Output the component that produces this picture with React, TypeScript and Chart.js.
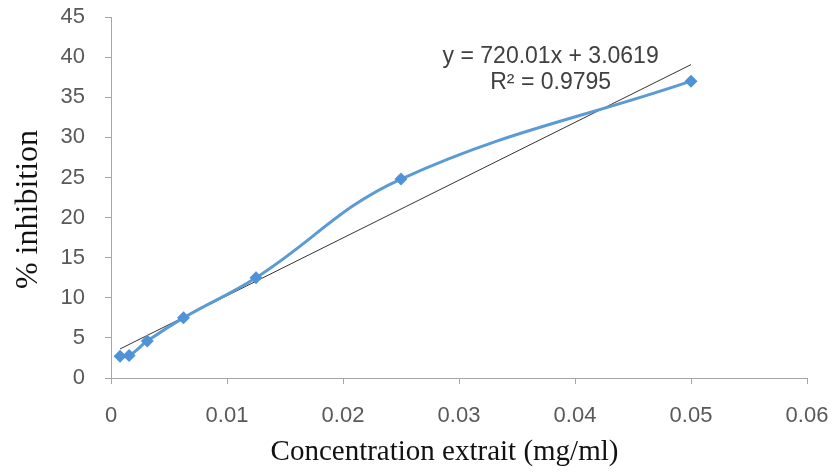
import React, { useEffect, useRef } from "react";
import { Chart, registerables } from "chart.js";

Chart.register(...registerables);

const concentrations = [0.00078125, 0.0015625, 0.003125, 0.00625, 0.0125, 0.025, 0.05];
const inhibition = [2.7, 2.8, 4.6, 7.5, 12.5, 24.8, 37.0];
const slope = 720.01;
const intercept = 3.0619;
const equationLines = ["y = 720.01x + 3.0619", "R² = 0.9795"];
const xTicks = [0, 0.01, 0.02, 0.03, 0.04, 0.05, 0.06];

export default function App() {
  const ref = useRef<HTMLCanvasElement | null>(null);
  useEffect(() => {
    document.body.style.margin = "0";
    const trend = [concentrations[0], concentrations[concentrations.length - 1]].map((x) => ({ x, y: slope * x + intercept }));
    const eqPlugin = {
      id: "eq",
      afterDatasetsDraw(chart: any) {
        const { ctx, scales } = chart;
        ctx.save();
        ctx.fillStyle = "#404040";
        ctx.font = "23px 'Liberation Sans', Arial, sans-serif";
        ctx.textAlign = "center";
        ctx.textBaseline = "middle";
        const cx = scales.x.getPixelForValue(0.0379);
        ctx.fillText(equationLines[0], cx, scales.y.getPixelForValue(40.1));
        ctx.fillText(equationLines[1], cx, scales.y.getPixelForValue(36.8));
        ctx.restore();
      },
    };
    const chart = new Chart(ref.current!, {
      type: "scatter",
      data: {
        datasets: [
          {
            data: concentrations.map((x, i) => ({ x, y: inhibition[i] })),
            showLine: true,
            borderColor: "#5B9BD5",
            backgroundColor: "#4F93D6",
            borderWidth: 3,
            tension: 0.4,
            pointStyle: "rectRot",
            pointRadius: 6.5,
            pointBorderWidth: 0,
          },
          {
            data: trend,
            showLine: true,
            borderColor: "#333333",
            borderWidth: 1,
            pointRadius: 0,
          },
        ],
      },
      options: {
        animation: false,
        responsive: false,
        layout: { padding: { top: 17, right: 25, left: 0, bottom: 0 } },
        plugins: { legend: { display: false }, tooltip: { enabled: false } },
        scales: {
          x: {
            type: "linear",
            min: 0,
            max: 0.06,
            afterFit: (s: any) => { s.height = 96; s.paddingLeft = 0; s.paddingRight = 0; },
            afterBuildTicks: (s: any) => { s.ticks = xTicks.map((v) => ({ value: v })); },
            grid: { drawOnChartArea: false, drawTicks: true, tickLength: 6, color: "#A6A6A6" },
            border: { color: "#A6A6A6", width: 1 },
            ticks: {
              color: "#595959",
              font: { family: "'Liberation Sans', Arial, sans-serif", size: 22 },
              padding: 19,
              maxRotation: 0,
              callback: (v: any) => String(Number(v)),
            },
            title: {
              display: true,
              text: "Concentration extrait (mg/ml)    ",
              color: "#111111",
              font: { family: "'Liberation Serif', 'Times New Roman', serif", size: 29 },
              padding: { top: 0, bottom: 4 },
            },
          },
          y: {
            min: 0,
            max: 45,
            afterFit: (s: any) => { s.width = 111; s.paddingTop = 0; s.paddingBottom = 0; },
            grid: { drawOnChartArea: false, drawTicks: true, tickLength: 6, color: "#A6A6A6" },
            border: { color: "#A6A6A6", width: 1 },
            ticks: {
              stepSize: 5,
              color: "#595959",
              font: { family: "'Liberation Sans', Arial, sans-serif", size: 22 },
              padding: 20,
            },
            title: {
              display: true,
              text: "% inhibition   ",
              color: "#111111",
              font: { family: "'Liberation Serif', 'Times New Roman', serif", size: 32 },
              padding: { top: 9, bottom: 0 },
            },
          },
        },
      },
      plugins: [eqPlugin],
    });
    return () => chart.destroy();
  }, []);
  return (
    <div style={{ position: "fixed", left: 0, top: 0, width: 832, height: 474, background: "#fff" }}>
      <canvas ref={ref} width={832} height={474} style={{ width: 832, height: 474 }} />
    </div>
  );
}
